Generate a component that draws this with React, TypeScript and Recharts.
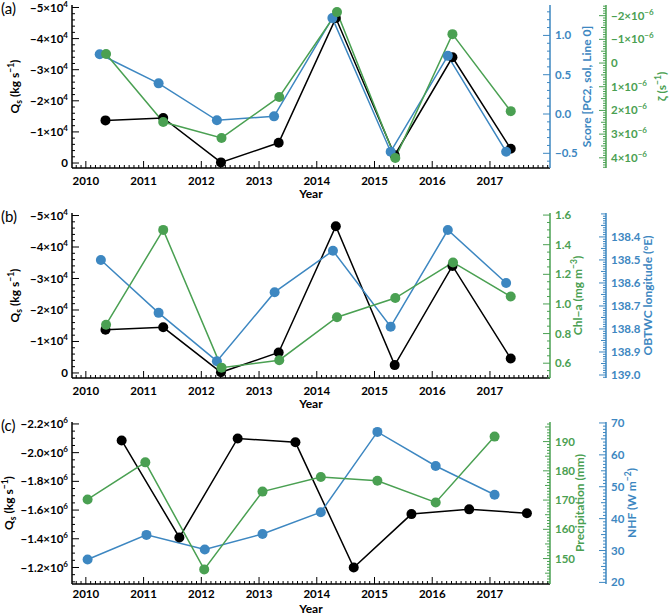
import React from 'react';
import { LineChart, Line, XAxis, YAxis } from 'recharts';

const BLACK = '#000000';
const BLUE = '#3d87c1';
const GREEN = '#4aa052';
const FONT = 'Lato, "Liberation Sans", sans-serif';

// ---- time axis ----
const years = [2010, 2011, 2012, 2013, 2014, 2015, 2016, 2017];

// sample dates (decimal years) for each series
const tFluxAB = [2010.34, 2011.34, 2012.34, 2013.34, 2014.33, 2015.35, 2016.35, 2017.36];
const tScore = [2010.24, 2011.26, 2012.27, 2013.26, 2014.27, 2015.28, 2016.27, 2017.28];
const tZeta = [2010.35, 2011.34, 2012.35, 2013.35, 2014.35, 2015.36, 2016.35, 2017.36];
const tChl = [2010.35, 2011.34, 2012.35, 2013.35, 2014.35, 2015.36, 2016.36, 2017.36];
const tLon = [2010.26, 2011.26, 2012.27, 2013.27, 2014.28, 2015.28, 2016.27, 2017.28];
const tFluxC = [2010.62, 2011.62, 2012.63, 2013.63, 2014.64, 2015.64, 2016.64, 2017.64];
const tPrecip = [2010.03, 2011.03, 2012.05, 2013.06, 2014.07, 2015.05, 2016.06, 2017.08];
const tNhf = [2010.03, 2011.05, 2012.06, 2013.06, 2014.07, 2015.05, 2016.06, 2017.08];

// ---- series values ----
const qsAnnual = [-13700, -14500, -200, -6500, -46600, -2500, -34000, -4600]; // kg s^-1
const scorePC2 = [0.76, 0.39, -0.08, -0.03, 1.22, -0.48, 0.74, -0.48];
const zetaE6 = [-0.38, 2.49, 3.16, 1.43, -2.15, 4.01, -1.22, 2.03]; // x1e-6 s^-1
const chlA = [0.86, 1.5, 0.57, 0.62, 0.91, 1.04, 1.28, 1.05]; // mg m^-3
const obtwcLon = [138.5, 138.73, 138.94, 138.64, 138.46, 138.79, 138.37, 138.6]; // deg E
const qsWinter = [-2.085e6, -1.409e6, -2.099e6, -2.072e6, -1.2e6, -1.572e6, -1.605e6, -1.578e6];
const precip = [170.2, 182.9, 146.3, 172.9, 177.9, 176.6, 169.2, 191.7]; // mm
const nhf = [27.2, 34.9, 30.3, 35.2, 42.0, 67.2, 56.5, 47.5]; // W m^-2

// ---- labelled ticks ----
const qsMajorsAB = [0, -10000, -20000, -30000, -40000, -50000];
const scoreMajors = [-0.5, 0, 0.5, 1.0];
const zetaMajors = [-2, -1, 0, 1, 2, 3, 4];
const chlMajors = [0.6, 0.8, 1.0, 1.2, 1.4, 1.6];
const lonMajors = [138.4, 138.5, 138.6, 138.7, 138.8, 138.9, 139.0];
const qsMajorsC = [-1.2e6, -1.4e6, -1.6e6, -1.8e6, -2.0e6, -2.2e6];
const precipMajors = [150, 160, 170, 180, 190];
const nhfMajors = [20, 30, 40, 50, 60, 70];

// ---- axis ranges ----
const X_DOMAIN: [number, number] = [2009.76, 2018.04];
const QS_AB_DOMAIN: [number, number] = [-50800, 1600];
const SCORE_DOMAIN: [number, number] = [-0.687, 1.387];
const ZETA_DOMAIN: [number, number] = [-2.45, 4.43];
const CHL_DOMAIN: [number, number] = [0.5, 1.614];
const LON_DOMAIN: [number, number] = [138.296, 139.013];
const QS_C_DOMAIN: [number, number] = [-2.2135e6, -1.085e6];
const PRECIP_DOMAIN: [number, number] = [141.3, 196.7];
const NHF_DOMAIN: [number, number] = [19.5, 70.3];

const rows = (t: number[], v: number[]) => t.map((x, i) => ({ t: x, v: v[i] }));

const EPS = 1e-7;
const isMultiple = (v: number, step: number) => Math.abs(v / step - Math.round(v / step)) < 1e-5;

// majors plus evenly spaced minor ticks inside the domain
function tickSet(domain: [number, number], majors: number[], minorStep: number): number[] {
  const out: number[] = [...majors];
  const start = Math.ceil(domain[0] / minorStep - 1e-9);
  const stop = Math.floor(domain[1] / minorStep + 1e-9);
  for (let i = start; i <= stop; i++) {
    const v = +(i * minorStep).toFixed(10);
    if (!out.some((m) => Math.abs(m - v) < Math.abs(minorStep) * 1e-3)) out.push(v);
  }
  return out.sort((a, b) => a - b);
}

const xTicks = tickSet(X_DOMAIN, years, 1 / 12);

const sup = (base: string, exp: string) => (
  <>
    <tspan>{base}</tspan>
    <tspan dy={-5} fontSize={8}>
      {exp}
    </tspan>
  </>
);

const fmtQsAB = (v: number) => (v === 0 ? '0' : sup(`\u2212${Math.abs(v) / 1e4}\u00d710`, '4'));
const fmtQsC = (v: number) => sup(`\u2212${(Math.abs(v) / 1e6).toFixed(1)}\u00d710`, '6');
const fmtZeta = (v: number) =>
  v === 0 ? '0' : sup(`${v < 0 ? '\u2212' : ''}${Math.abs(v)}\u00d710`, '\u22126');
const fmtSigned1 = (v: number) => (v < 0 ? `\u2212${Math.abs(v).toFixed(1)}` : v.toFixed(1));
const fmtFixed1 = (v: number) => v.toFixed(1);
const fmtInt = (v: number) => `${Math.round(v)}`;

type YTickOpts = {
  side: 'left' | 'right';
  color: string;
  majors: number[];
  midStep?: number;
  fmt: (v: number) => React.ReactNode;
};

function makeYTick(o: YTickOpts) {
  return (p: any) => {
    const v: number = p.payload.value;
    const major = o.majors.some((m) => Math.abs(m - v) < Math.abs(m) * 1e-6 + EPS);
    const mid = !major && o.midStep !== undefined && isMultiple(v, o.midStep);
    const len = major ? 7 : mid ? 5 : 3;
    const dir = o.side === 'left' ? 1 : -1;
    return (
      <g>
        <line x1={p.x} y1={p.y} x2={p.x + dir * len} y2={p.y} stroke={o.color} strokeWidth={1} />
        {major && (
          <text
            x={o.side === 'left' ? p.x - 4 : p.x + 5}
            y={p.y}
            dy="0.35em"
            textAnchor={o.side === 'left' ? 'end' : 'start'}
            fill={o.color}
            fontFamily={FONT}
            fontWeight={700}
            fontSize={11.5}
          >
            {o.fmt(v)}
          </text>
        )}
      </g>
    );
  };
}

function makeXTick(side: 'top' | 'bottom', labelDy: number) {
  return (p: any) => {
    const v: number = p.payload.value;
    const major = years.some((yr) => Math.abs(yr - v) < 1e-6);
    const len = major ? 7 : 3;
    const dir = side === 'bottom' ? -1 : 1;
    return (
      <g>
        <line x1={p.x} x2={p.x} y1={p.y} y2={p.y + dir * len} stroke={BLACK} strokeWidth={1} />
        {major && side === 'bottom' && (
          <text
            x={p.x}
            y={p.y + labelDy}
            dy="0.35em"
            textAnchor="middle"
            fill={BLACK}
            fontFamily={FONT}
            fontWeight={700}
            fontSize={11.5}
          >
            {Math.round(v)}
          </text>
        )}
      </g>
    );
  };
}

const titleStyle = { fontFamily: FONT, fontWeight: 700, fontSize: 12 } as const;

function VerticalTitle(props: { viewBox?: any; dx: number; color: string; children: React.ReactNode }) {
  const vb = props.viewBox || { x: 0, y: 0, width: 0, height: 0 };
  const cx = vb.x + props.dx;
  const cy = vb.y + vb.height / 2;
  return (
    <text
      x={cx}
      y={cy}
      dy="0.35em"
      textAnchor="middle"
      transform={`rotate(-90 ${cx} ${cy})`}
      fill={props.color}
      {...titleStyle}
    >
      {props.children}
    </text>
  );
}

const qsTitle = (
  <>
    <tspan>Q</tspan>
    <tspan dy={3} fontSize={8.5}>
      s
    </tspan>
    <tspan dy={-3}> (kg s</tspan>
    <tspan dy={-5} fontSize={8.5}>
      {'\u22121'}
    </tspan>
    <tspan dy={5}>)</tspan>
  </>
);

function leftLabel(dx: number, letter: string, letterDy: number) {
  return (p: any) => {
    const vb = p.viewBox || { x: 0, y: 0, width: 0, height: 0 };
    return (
      <g>
        <VerticalTitle viewBox={vb} dx={dx} color={BLACK}>
          {qsTitle}
        </VerticalTitle>
        <text x={1} y={vb.y + letterDy} dy="0.35em" fontFamily={FONT} fontSize={15} fill={BLACK}>
          {letter}
        </text>
      </g>
    );
  };
}

function rightLabel(dx: number, color: string, content: React.ReactNode) {
  return (p: any) => (
    <VerticalTitle viewBox={p.viewBox} dx={dx} color={color}>
      {content}
    </VerticalTitle>
  );
}

function yearLabel(dy: number) {
  return (p: any) => {
    const vb = p.viewBox || { x: 0, y: 0, width: 0, height: 0 };
    return (
      <text x={vb.x + vb.width / 2} y={vb.y + dy} dy="0.35em" textAnchor="middle" fill={BLACK} {...titleStyle}>
        Year
      </text>
    );
  };
}

const FRAME = { stroke: BLACK, strokeWidth: 1.5 };
const dotOf = (c: string) => ({ r: 5, fill: c, stroke: c, strokeWidth: 0 });

type SideAxis = {
  domain: [number, number];
  reversed?: boolean;
  ticks: number[];
  majors: number[];
  midStep?: number;
  color: string;
  fmt: (v: number) => React.ReactNode;
  titleDx: number;
  title: React.ReactNode;
};

function Panel(props: {
  top: number;
  marginTop: number;
  height: number;
  xHeight: number;
  tickDy: number;
  yearDy: number;
  letter: string;
  qsDx: number;
  left: { domain: [number, number]; ticks: number[]; majors: number[]; fmt: (v: number) => React.ReactNode };
  r1: SideAxis;
  r2: SideAxis;
  series: { data: { t: number; v: number }[]; axis: 'q' | 'r1' | 'r2'; color: string }[];
}) {
  const { left, r1, r2 } = props;
  return (
    <div style={{ position: 'absolute', left: 0, top: props.top }}>
      <LineChart width={670} height={props.height} margin={{ top: props.marginTop, right: 0, bottom: 0, left: 0 }}>
        <XAxis
          xAxisId="b"
          type="number"
          dataKey="t"
          domain={X_DOMAIN}
          allowDataOverflow
          ticks={xTicks}
          interval={0}
          tickSize={0}
          tickMargin={0}
          tickLine={false}
          axisLine={FRAME}
          tick={makeXTick('bottom', props.tickDy)}
          height={props.xHeight}
          label={yearLabel(props.yearDy)}
        />
        <XAxis
          xAxisId="t"
          orientation="top"
          type="number"
          dataKey="t"
          domain={X_DOMAIN}
          allowDataOverflow
          ticks={xTicks}
          interval={0}
          tickSize={0}
          tickMargin={0}
          tickLine={false}
          axisLine={FRAME}
          tick={makeXTick('top', 0)}
          height={0}
        />
        <YAxis
          yAxisId="q"
          orientation="left"
          type="number"
          width={72}
          domain={left.domain}
          reversed
          allowDataOverflow
          ticks={left.ticks}
          interval={0}
          tickSize={0}
          tickMargin={0}
          tickLine={false}
          axisLine={FRAME}
          tick={makeYTick({ side: 'left', color: BLACK, majors: left.majors, fmt: left.fmt })}
          label={leftLabel(props.qsDx, props.letter, 4)}
        />
        <YAxis
          yAxisId="r1"
          orientation="right"
          type="number"
          width={56}
          domain={r1.domain}
          reversed={!!r1.reversed}
          allowDataOverflow
          ticks={r1.ticks}
          interval={0}
          tickSize={0}
          tickMargin={0}
          tickLine={false}
          axisLine={{ stroke: r1.color, strokeWidth: 1.5 }}
          tick={makeYTick({ side: 'right', color: r1.color, majors: r1.majors, midStep: r1.midStep, fmt: r1.fmt })}
          label={rightLabel(r1.titleDx, r1.color, r1.title)}
        />
        <YAxis
          yAxisId="r2"
          orientation="right"
          type="number"
          width={64}
          domain={r2.domain}
          reversed={!!r2.reversed}
          allowDataOverflow
          ticks={r2.ticks}
          interval={0}
          tickSize={0}
          tickMargin={0}
          tickLine={false}
          axisLine={{ stroke: r2.color, strokeWidth: 1.5 }}
          tick={makeYTick({ side: 'right', color: r2.color, majors: r2.majors, midStep: r2.midStep, fmt: r2.fmt })}
          label={rightLabel(r2.titleDx, r2.color, r2.title)}
        />
        {props.series.map((s, i) => (
          <Line
            key={i}
            xAxisId="b"
            yAxisId={s.axis}
            data={s.data}
            dataKey="v"
            type="linear"
            stroke={s.color}
            strokeWidth={1.5}
            dot={dotOf(s.color)}
            activeDot={false}
            isAnimationActive={false}
          />
        ))}
      </LineChart>
    </div>
  );
}

const supTitle = (base: string, exp: string, tail: string) => (
  <>
    <tspan>{base}</tspan>
    <tspan dy={-5} fontSize={8.5}>
      {exp}
    </tspan>
    <tspan dy={5}>{tail}</tspan>
  </>
);

export default function App() {
  return (
    <div style={{ position: 'absolute', left: 0, top: 0, width: 670, height: 616, background: '#fff' }}>
      <Panel
        top={0}
        marginTop={5}
        height={200}
        xHeight={32}
        tickDy={13}
        yearDy={26}
        letter="(a)"
        qsDx={15}
        left={{ domain: QS_AB_DOMAIN, ticks: tickSet(QS_AB_DOMAIN, qsMajorsAB, 2000), majors: qsMajorsAB, fmt: fmtQsAB }}
        r1={{
          domain: SCORE_DOMAIN,
          ticks: tickSet(SCORE_DOMAIN, scoreMajors, 0.1),
          majors: scoreMajors,
          color: BLUE,
          fmt: fmtSigned1,
          titleDx: 37,
          title: 'Score [PC2, sol, Line 0]',
        }}
        r2={{
          domain: ZETA_DOMAIN,
          reversed: true,
          ticks: tickSet(ZETA_DOMAIN, zetaMajors, 0.1),
          majors: zetaMajors,
          midStep: 0.5,
          color: GREEN,
          fmt: fmtZeta,
          titleDx: 56,
          title: supTitle('\u03b6 (s', '\u22121', ')'),
        }}
        series={[
          { data: rows(tFluxAB, qsAnnual), axis: 'q', color: BLACK },
          { data: rows(tScore, scorePC2), axis: 'r1', color: BLUE },
          { data: rows(tZeta, zetaE6), axis: 'r2', color: GREEN },
        ]}
      />
      <Panel
        top={198}
        marginTop={15}
        height={212}
        xHeight={32}
        tickDy={13}
        yearDy={26}
        letter="(b)"
        qsDx={15}
        left={{ domain: QS_AB_DOMAIN, ticks: tickSet(QS_AB_DOMAIN, qsMajorsAB, 2000), majors: qsMajorsAB, fmt: fmtQsAB }}
        r1={{
          domain: CHL_DOMAIN,
          ticks: tickSet(CHL_DOMAIN, chlMajors, 0.05),
          majors: chlMajors,
          color: GREEN,
          fmt: fmtFixed1,
          titleDx: 28,
          title: supTitle('Chl\u2212a (mg m', '\u22123', ')'),
        }}
        r2={{
          domain: LON_DOMAIN,
          reversed: true,
          ticks: tickSet(LON_DOMAIN, lonMajors, 0.01),
          majors: lonMajors,
          midStep: 0.05,
          color: BLUE,
          fmt: fmtFixed1,
          titleDx: 42,
          title: 'OBTWC longitude (\u00b0E)',
        }}
        series={[
          { data: rows(tFluxAB, qsAnnual), axis: 'q', color: BLACK },
          { data: rows(tLon, obtwcLon), axis: 'r2', color: BLUE },
          { data: rows(tChl, chlA), axis: 'r1', color: GREEN },
        ]}
      />
      <Panel
        top={407}
        marginTop={15}
        height={209}
        xHeight={32}
        tickDy={10}
        yearDy={25}
        letter="(c)"
        qsDx={9}
        left={{ domain: QS_C_DOMAIN, ticks: tickSet(QS_C_DOMAIN, qsMajorsC, 50000), majors: qsMajorsC, fmt: fmtQsC }}
        r1={{
          domain: PRECIP_DOMAIN,
          ticks: tickSet(PRECIP_DOMAIN, precipMajors, 1),
          majors: precipMajors,
          midStep: 5,
          color: GREEN,
          fmt: fmtInt,
          titleDx: 30,
          title: 'Precipitation (mm)',
        }}
        r2={{
          domain: NHF_DOMAIN,
          ticks: tickSet(NHF_DOMAIN, nhfMajors, 1),
          majors: nhfMajors,
          midStep: 5,
          color: BLUE,
          fmt: fmtInt,
          titleDx: 26,
          title: supTitle('NHF (W m', '\u22122', ')'),
        }}
        series={[
          { data: rows(tFluxC, qsWinter), axis: 'q', color: BLACK },
          { data: rows(tNhf, nhf), axis: 'r2', color: BLUE },
          { data: rows(tPrecip, precip), axis: 'r1', color: GREEN },
        ]}
      />
    </div>
  );
}
